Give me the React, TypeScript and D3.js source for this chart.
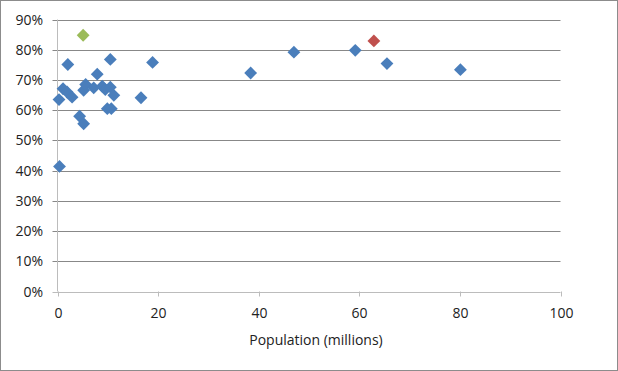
import { useRef, useEffect } from 'react';
import * as d3 from 'd3';

// population (millions), share
const popBlue = [0.3, 1.1, 1.9, 2.05, 2.9, 4.4, 5.2, 5.2, 5.6, 7.2, 7.9, 8.9, 9.5, 9.9, 10.5, 10.5, 10.7, 11.2, 16.6, 18.9, 0.4, 38.4, 47.0, 59.2, 65.5, 80.1];
const shareBlue = [0.635, 0.671, 0.66, 0.751, 0.643, 0.58, 0.555, 0.666, 0.685, 0.674, 0.719, 0.679, 0.668, 0.605, 0.676, 0.768, 0.605, 0.649, 0.641, 0.758, 0.414, 0.723, 0.792, 0.798, 0.754, 0.734];
const popGreen = [5.1];
const shareGreen = [0.848];
const popRed = [62.9];
const shareRed = [0.829];

const xTicks = [0, 20, 40, 60, 80, 100];
const yTicks = [0, 0.1, 0.2, 0.3, 0.4, 0.5, 0.6, 0.7, 0.8, 0.9];

const W = 618;
const H = 371;

export default function App() {
  const svgRef = useRef<SVGSVGElement>(null);

  useEffect(() => {
    const svg = d3.select(svgRef.current);
    svg.selectAll('*').remove();

    const font = 'Open Sans, Noto Sans, sans-serif';
    const x = d3.scaleLinear().domain([0, 100]).range([57.5, 560.5]);
    const y = d3.scaleLinear().domain([0, 0.9]).range([291.5, 19.5]);

    svg.append('rect').attr('x', 0.5).attr('y', 0.5).attr('width', W - 1).attr('height', H - 1)
      .attr('fill', '#fff').attr('stroke', '#8c8c8c').attr('stroke-width', 1);

    // gridlines
    yTicks.forEach(t => {
      svg.append('line').attr('x1', x(0) - 5).attr('x2', x(100))
        .attr('y1', Math.round(y(t)) + 0.5).attr('y2', Math.round(y(t)) + 0.5)
        .attr('stroke', t === 0 ? '#bcbcbc' : '#888').attr('stroke-width', 1);
      svg.append('text').attr('x', 43).attr('y', Math.round(y(t)) + 5)
        .attr('text-anchor', 'end').attr('font-family', font).attr('font-size', 14)
        .attr('fill', '#222').text(d3.format('.0%')(t));
    });

    // y axis line
    svg.append('line').attr('x1', x(0)).attr('x2', x(0)).attr('y1', y(0.9)).attr('y2', y(0))
      .attr('stroke', '#bcbcbc');

    xTicks.forEach(t => {
      const px = Math.round(x(t)) + 0.5;
      svg.append('line').attr('x1', px).attr('x2', px).attr('y1', y(0)).attr('y2', y(0) + 5)
        .attr('stroke', '#bcbcbc');
      svg.append('text').attr('x', px).attr('y', 318)
        .attr('text-anchor', 'middle').attr('font-family', font).attr('font-size', 14)
        .attr('fill', '#222').text(t);
    });

    svg.append('text').attr('x', 316).attr('y', 345)
      .attr('text-anchor', 'middle').attr('font-family', font).attr('font-size', 14)
      .attr('fill', '#222').text('Population (millions)');

    const diamond = d3.symbol().type(d3.symbolDiamond2).size(105);
    const series: [number[], number[], string][] = [
      [popBlue, shareBlue, '#4a7ebb'],
      [popGreen, shareGreen, '#9bbb59'],
      [popRed, shareRed, '#c0504d'],
    ];
    series.forEach(([xs, ys, color]) => {
      svg.append('g').selectAll('path').data(xs).join('path')
        .attr('d', diamond)
        .attr('transform', (d, i) => `translate(${x(d)},${y(ys[i])})`)
        .attr('fill', color);
    });
  }, []);

  return (
    <svg ref={svgRef} width={W} height={H}
      style={{ display: 'block', position: 'absolute', left: 0, top: 0 }} />
  );
}
